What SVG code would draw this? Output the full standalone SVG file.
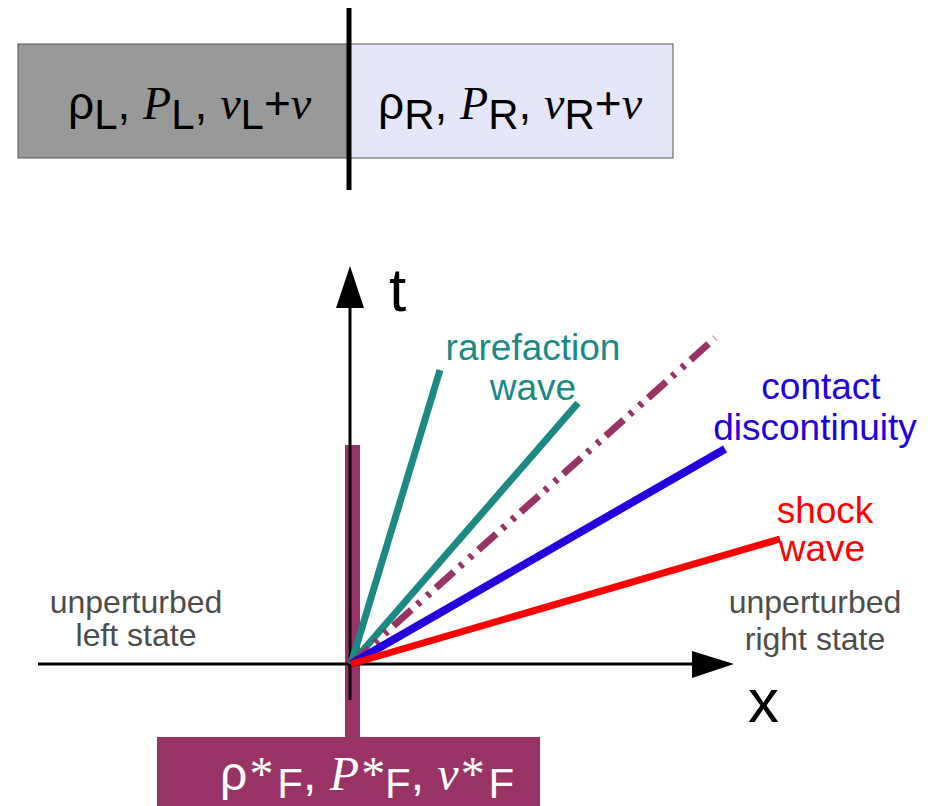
<svg xmlns="http://www.w3.org/2000/svg" width="935" height="806" viewBox="0 0 935 806">
<style>
.sans{font-family:"Liberation Sans",Arial,sans-serif}
.ser{font-family:"Liberation Serif","Times New Roman",serif;font-style:italic}
.big{font-size:46px}
.sub{font-size:42px}
.lbl{font-family:"Liberation Sans",Arial,sans-serif;font-size:37px;text-anchor:middle}
.gray{font-family:"Liberation Sans",Arial,sans-serif;font-size:32px;fill:#4d4d4d;text-anchor:middle}
.axis{font-family:"Liberation Sans",Arial,sans-serif;font-size:62px;fill:#000}
</style>
<rect width="935" height="806" fill="#fff"/>
<g id="left-state">
<rect x="18" y="44" width="331" height="114" fill="#999999" stroke="#555" stroke-width="1"/>
<text x="68" y="119" class="big"><tspan class="sans">ρ</tspan><tspan class="sans sub" dy="10">L</tspan><tspan class="sans" dy="-10">, </tspan><tspan class="ser">P</tspan><tspan class="sans sub" dy="10">L</tspan><tspan class="sans" dy="-10">, </tspan><tspan class="ser">v</tspan><tspan class="sans sub" dy="10">L</tspan><tspan class="sans" dy="-10">+</tspan><tspan class="ser">v</tspan></text>
</g>
<g id="right-state">
<rect x="349" y="44" width="324" height="114" fill="#e6e6fa" stroke="#555" stroke-width="1"/>
<text x="378" y="119" class="big"><tspan class="sans">ρ</tspan><tspan class="sans sub" dy="10">R</tspan><tspan class="sans" dy="-10">, </tspan><tspan class="ser">P</tspan><tspan class="sans sub" dy="10">R</tspan><tspan class="sans" dy="-10">, </tspan><tspan class="ser">v</tspan><tspan class="sans sub" dy="10">R</tspan><tspan class="sans" dy="-10">+</tspan><tspan class="ser">v</tspan></text>
</g>
<g id="membrane">
<line x1="349" y1="8" x2="349" y2="190" stroke="#000" stroke-width="5"/>
</g>
<g id="interface-bar">
<rect x="345" y="445" width="15" height="292" fill="#993366"/>
</g>
<g id="star-state">
<rect x="157" y="737" width="383" height="75" fill="#993366"/>
<text x="220" y="790" class="big" fill="#fff" style="font-size:48px"><tspan class="sans">ρ</tspan><tspan class="ser">*</tspan><tspan class="sans sub" dy="8" dx="6">F</tspan><tspan class="sans" dy="-8">, </tspan><tspan class="ser">P</tspan><tspan class="ser">*</tspan><tspan class="sans sub" dy="8" dx="2">F</tspan><tspan class="sans" dy="-8">, </tspan><tspan class="ser">v</tspan><tspan class="ser">*</tspan><tspan class="sans sub" dy="8" dx="6">F</tspan></text>
</g>
<g id="connectors">
<line x1="350" y1="700" x2="350" y2="290" stroke="#000" stroke-width="3"/>
<path d="M350,266 L336,308 L364,308 Z" fill="#000"/>
<line x1="38" y1="664" x2="695" y2="664" stroke="#000" stroke-width="3"/>
<path d="M734,664 L692,651 L692,678 Z" fill="#000"/>
<line x1="351" y1="664" x2="440" y2="370" stroke="#1b8a85" stroke-width="7"/>
<line x1="351" y1="664" x2="578" y2="403" stroke="#1b8a85" stroke-width="7"/>
<line x1="351" y1="664" x2="715" y2="338" stroke="#993366" stroke-width="7" stroke-dasharray="24 8 4 9 4 8"/>
<line x1="351" y1="664" x2="725" y2="449" stroke="#2200dd" stroke-width="8"/>
<line x1="351" y1="664" x2="780" y2="539" stroke="#ff0000" stroke-width="7"/>
</g>
<g id="labels">
<text x="533" y="360" class="lbl" fill="#1b8a85">rarefaction</text>
<text x="533" y="400" class="lbl" fill="#1b8a85">wave</text>
<text x="821" y="399" class="lbl" fill="#2200dd">contact</text>
<text x="815" y="440" class="lbl" fill="#2200dd">discontinuity</text>
<text x="825" y="523" class="lbl" fill="#ff0000">shock</text>
<text x="822" y="561" class="lbl" fill="#ff0000">wave</text>
<text x="136" y="613" class="gray">unperturbed</text>
<text x="136" y="646" class="gray">left state</text>
<text x="815" y="613" class="gray">unperturbed</text>
<text x="815" y="650" class="gray">right state</text>
<text x="389" y="311" class="axis">t</text>
<text x="748" y="722" class="axis">x</text>
</g>
</svg>
